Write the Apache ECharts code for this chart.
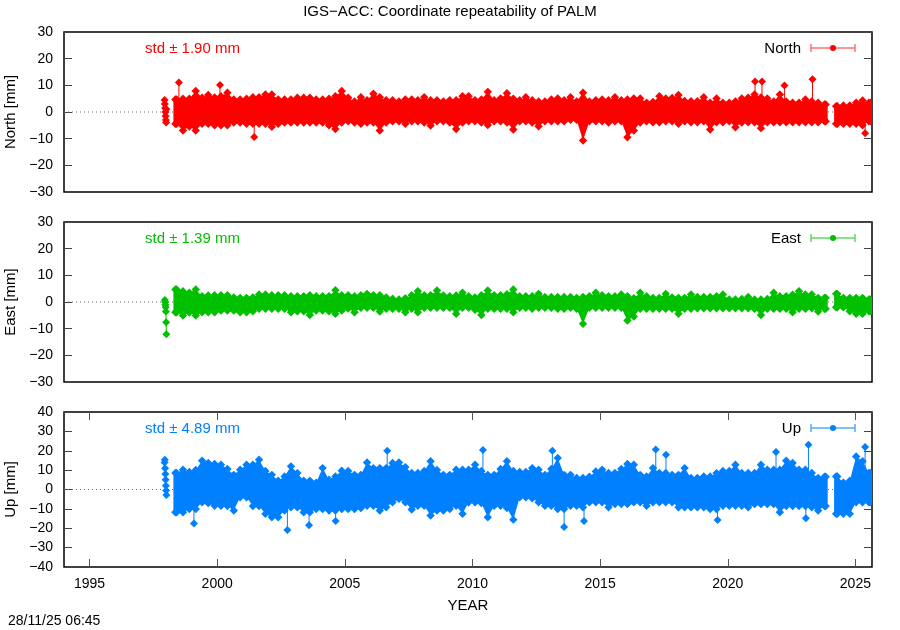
<!DOCTYPE html>
<html>
<head>
<meta charset="utf-8">
<script src="https://cdn.jsdelivr.net/npm/echarts@6/dist/echarts.min.js"></script>
<style>html,body{margin:0;padding:0;background:#fff;}#c{width:900px;height:630px;}</style>
</head>
<body>
<div id="c"></div>
<script>
// ---- data (bin centres in decimal years, band min/max, mm) ----
var epochs = [1998.41,1998.66,1998.91,1999.16,1999.41,1999.65,1999.90,2000.15,2000.40,2000.65,
2000.90,2001.15,2001.40,2001.64,2001.89,2002.14,2002.39,2002.64,2002.89,2003.14,
2003.39,2003.63,2003.88,2004.13,2004.38,2004.63,2004.88,2005.13,2005.38,2005.63,
2005.87,2006.12,2006.37,2006.62,2006.87,2007.12,2007.37,2007.62,2007.86,2008.11,
2008.36,2008.61,2008.86,2009.11,2009.36,2009.61,2009.85,2010.10,2010.35,2010.60,
2010.85,2011.10,2011.35,2011.60,2011.85,2012.09,2012.34,2012.59,2012.84,2013.09,
2013.34,2013.59,2013.84,2014.08,2014.33,2014.58,2014.83,2015.08,2015.33,2015.58,
2015.83,2016.07,2016.32,2016.57,2016.82,2017.07,2017.32,2017.57,2017.82,2018.07,
2018.31,2018.56,2018.81,2019.06,2019.31,2019.56,2019.81,2020.06,2020.30,2020.55,
2020.80,2021.05,2021.30,2021.55,2021.80,2022.04,2022.29,2022.54,2022.79,2023.04,
2023.29,2023.54,2023.79,2024.04,2024.29,2024.53,2024.78,2025.03,2025.28,2025.53];

var northHi = [5.75,6,6,8.9,6.4,7.4,6.5,7,8.25,5.75, 5.75,6,6.6,6.6,7.6,7.6,5.75,5.75,5.75,6.4,
6.4,6.4,5.75,5.75,6,7,8.9,6.4,5,6.6, 5.5,7.9,6.6,5.5,5.5,5,5.75,5.75,5.5,6.6,
5.5,5.5,5,5.5,5.5,7,7,5.5,5.75,8.6, 5.5,6.1,8.1,6,5.5,6.6,5.5,5,5,5.75,
6.1,5.5,6.6,5,8.25,5,5.5,5.75,5.5,6.6, 5.5,5.75,6.1,6.1,4.5,4.8,7,6.1,6.3,7.4,
5.2,5.1,5.1,6.6,4.5,6.1,4.5,4.5,5,6.1, 6.4,7.6,6.5,6.1,5,7.6,5,4.5,4.5,5.75,
5,4.5,3.9,null,3.25,3.5,3.5,4.5,5.4,4.5];
var northLo = [-5.5,-8,-6.5,-8,-5.5,-5.5,-6,-6,-6,-5, -5,-5.5,-5.5,-5.5,-5.5,-6.6,-5.5,-5,-5,-5,
-5,-5,-5,-5,-6,-7.4,-5,-4.5,-5,-5.5, -5,-5,-8,-5,-4.5,-4.5,-5.5,-4.5,-4.5,-5,
-6.1,-4.5,-4.5,-5,-7.4,-5,-4.5,-4.5,-5,-5.9, -4.5,-4.5,-5,-7.6,-4.5,-4.5,-5,-6.4,-4.5,-4.5,
-4.5,-4.5,-4,-4,-11.75,-4.5,-4.5,-4.5,-5,-4.5, -4.5,-10.5,-8,-5,-4.5,-4.9,-4.9,-4.5,-4.5,-5.5,
-4.5,-4.9,-4.9,-4.5,-7.6,-4.9,-4.9,-4.5,-6.75,-5, -4.9,-4.9,-7.1,-4.9,-4.9,-4.9,-4.9,-4.9,-4.9,-4.9,
-4.9,-4.9,-4.5,null,-5.5,-5.5,-5.5,-5.5,-6,-4.5];

var eastHi = [5.75,5.1,4.5,5.75,3.25,3.5,3.6,3.6,3.6,2.8, 2.6,2.6,2.8,3.9,3.9,3.6,3.6,3.6,3.25,3.25,
3.25,3.6,3.25,3.25,3.25,5.5,3.6,3.6,3.25,3.6, 4.1,3.6,3.6,2.8,2.3,2,2.5,3.6,5.1,3.6,
3.6,5.4,3.5,3.25,3.5,4.5,3.2,2.8,3.6,5.4, 3.6,3.6,4,5.75,3.25,3.25,3.25,4.1,2.9,2.9,
2.9,2.9,2.9,2.6,2.9,3.25,4.5,3.6,3.25,3.25, 3.9,3.25,2.5,4.5,3.2,2.6,2.6,4.1,2.8,2.6,
2.6,3.9,2.9,2.9,2.9,3.2,3.9,2,2,2.2, 2.9,2,2,2.2,4.5,3.25,3.25,3.8,5.1,3.9,
3.9,2.6,2.6,null,4.1,2.6,2.6,2.6,2.6,2];
var eastLo = [-4.9,-6.1,-5,-6.1,-4.9,-4.9,-4.9,-4.25,-4.25,-4.25, -4.9,-4.9,-4.5,-3.6,-3.6,-3.6,-3.6,-3.6,-4.9,-4.5,
-4.5,-5.9,-4.25,-4.25,-4.5,-5.5,-4.25,-3.5,-4.9,-3.2, -3.2,-3.2,-4.6,-3.6,-3.6,-3.6,-4.9,-3.6,-4.9,-3.2,
-3.2,-3.2,-3.2,-3.2,-5.5,-3.2,-3.2,-4,-5.9,-3.6, -3.6,-3.6,-3.6,-4.9,-3.2,-3.2,-3.6,-3.2,-3.2,-3.2,
-3.6,-3.6,-3.2,-3.6,-9.25,-3.2,-3.2,-3.2,-3.2,-3.2, -3.2,-8,-6.5,-3.6,-3.6,-3.6,-3.6,-3.6,-3.6,-5.5,
-3.6,-3.6,-3.4,-3.4,-3.4,-3.4,-3.4,-3.4,-3.4,-3.4, -3.4,-3.6,-5.9,-3.6,-3.6,-3.6,-3.6,-4.9,-3.6,-3.6,
-3.4,-4.6,-3.6,null,-3,-3,-4.5,-5.5,-5.5,-4.5];

var upHi = [10,11.7,10.5,11.5,16.3,15.1,14.6,14.2,12,9, 11.7,14.2,14.2,16.8,11,9,6,8.2,13.4,9.9,
6,6,5,12.5,6.5,8.2,11.1,11,9,9, 15.4,12.5,12.5,12.5,15.1,15.4,13,10,10,11,
16,11.5,9,9,11.7,11.7,11.7,14.2,11,9, 9,12,16,11,10.5,10.5,12.5,11.7,9,12,
17.7,9,9,7.4,7.4,8,10.8,11.7,10,10, 12,14.6,14.2,9,8.2,12.5,10,10,9,9,
12.5,7.4,7.4,8.2,8.2,9.9,11,11,14.2,10, 10,10,14.2,11.7,11.7,11.7,16.3,15.1,11.7,11.7,
10,7.4,8,null,8.2,5,6,18.5,16,10];
var upLo = [-13.2,-13.2,-11.5,-11.5,-8,-8.5,-9.8,-9.8,-10,-12.3, -5.5,-5.5,-10,-10,-14,-15.8,-15.8,-12.3,-10.6,-10.6,
-13.2,-13.2,-11.5,-11.5,-12.3,-12.3,-11.5,-11.5,-11.5,-11, -9.8,-9.8,-12.3,-10.6,-8,-6.3,-8,-11.8,-9.8,-9.8,
-14.9,-12.3,-12.3,-11.5,-9.8,-14,-8,-8,-8.5,-15.8, -9.8,-9.8,-11,-17,-5.5,-5.5,-6,-8,-9.8,-9.8,
-11.5,-11.5,-9.8,-9.8,-10.6,-8,-8,-8,-10.6,-8.9, -8.9,-8.9,-8,-8,-9.8,-8,-8,-8,-8,-10.6,
-10.6,-10.6,-10.6,-10.6,-11.5,-11.5,-9.8,-9.8,-9.8,-9.8, -10.6,-9,-9,-9,-9,-13.2,-10,-10,-10,-10,
-10.6,-12.3,-10,null,-14,-14,-14,-8,-8,-8];

// isolated outliers [year, mm]
var northSpikes = [[1998.50,11.1],[2000.11,10.1],[2001.45,-9.4],[2021.07,11.4],[2021.34,11.4],[2022.22,9.9],[2023.32,12.25],[2025.38,-8]];
var eastSpikes = [];
var upSpikes = [[1999.09,-17.5],[2002.75,-20.9],[2003.60,-18.4],[2004.64,-16.3],[2006.66,20],[2010.41,20.4],[2013.13,20],
[2013.59,-19.4],[2014.37,-16.3],[2017.18,20.6],[2017.58,18],[2019.60,-15.8],[2021.89,19.4],[2023.06,-14.9],[2023.16,23.1],[2025.38,21.9]];

// first short data segment at start of 1998
var northEarly = [[1997.94,4.5],[1997.95,3],[1997.96,1.5],[1997.97,0],[1997.98,-1.5],[1997.99,-3],[1998.00,-3.9],[1998.01,1]];
var eastEarly = [[1997.95,0.75],[1997.96,0],[1997.97,-1],[1997.98,-2],[1997.99,-3.6],[1998.00,-7.6],[1998.01,-12.1]];
var upEarly = [[1997.94,14],[1997.95,15.4],[1997.96,11],[1997.97,8],[1997.98,5],[1997.99,2],[1998.00,-0.5],[1998.01,-2.9]];

var yearTicks = [1995,2000,2005,2010,2015,2020,2025];
var panels = [
  {name:'North', axis:'North [mm]', std:'std \u00b1 1.90 mm', color:'#ff0000', light:'#ff7070', hi:northHi, lo:northLo, spikes:northSpikes, early:northEarly, min:-30, max:30},
  {name:'East',  axis:'East [mm]',  std:'std \u00b1 1.39 mm', color:'#00c000', light:'#60d860', hi:eastHi, lo:eastLo, spikes:eastSpikes, early:eastEarly, min:-30, max:30},
  {name:'Up',    axis:'Up [mm]',    std:'std \u00b1 4.89 mm', color:'#0080ff', light:'#50a8ff', hi:upHi, lo:upLo, spikes:upSpikes, early:upEarly, min:-40, max:40}
];

// ---- layout ----
var XMIN = 1994, XMAX = 2025.65, HALF = 0.1244, D = 4.2, OFF = 2.8, DS = 4;
var FONT = 'Liberation Sans, Arial, sans-serif';
var grids = [{top:32,height:160},{top:222,height:160},{top:412,height:155}];

function diamond(x, y, c, d) {
  return {type:'polygon', shape:{points:[[x,y-d],[x+d,y],[x,y+d],[x-d,y]]}, style:{fill:c}};
}
function bandItem(color) {
  return function (params, api) {
    var idx = params.dataIndexInside, n = params.dataInsideLength;
    var t = api.value(0), lo = api.value(1), hi = api.value(2);
    var pH = api.coord([t, hi]), pL = api.coord([t, lo]);
    var kids = [];
    var hasPrev = idx > 0 && (t - api.value(0, idx - 1)) < 0.3;
    if (!hasPrev) {
      // whole contiguous segment as one polygon
      var top = [], bot = [], k = idx;
      var s0 = api.coord([t - HALF, 0])[0];
      while (true) {
        var tk = api.value(0, k);
        var h = api.coord([tk, api.value(2, k)]), l = api.coord([tk, api.value(1, k)]);
        if (k === idx) { top.push([s0, h[1] + OFF]); bot.push([s0, l[1] - OFF]); }
        top.push([h[0], h[1] + OFF]); bot.push([l[0], l[1] - OFF]);
        var nextOk = k + 1 < n && (api.value(0, k + 1) - tk) < 0.3;
        if (!nextOk) {
          var e0 = api.coord([tk + HALF, 0])[0];
          top.push([e0, h[1] + OFF]); bot.push([e0, l[1] - OFF]);
          break;
        }
        k++;
      }
      kids.push({type:'polygon', shape:{points:top.concat(bot.reverse())}, style:{fill:color}});
      kids.push(diamond(s0 + 2, top[0][1], color, D), diamond(s0 + 2, bot[bot.length - 1][1], color, D));
      var last = top[top.length - 1];
      kids.push(diamond(last[0] - 2, last[1], color, D), diamond(last[0] - 2, bot[0][1], color, D));
    }
    kids.push(diamond(pH[0], pH[1] + OFF, color, D), diamond(pL[0], pL[1] - OFF, color, D));
    return {type:'group', children:kids};
  };
}
function spikeItem(color) {
  return function (params, api) {
    var t = api.value(0), v = api.value(1);
    var p0 = api.coord([t, 0]), p1 = api.coord([t, v]);
    return {type:'group', children:[
      {type:'line', shape:{x1:p0[0], y1:p0[1], x2:p1[0], y2:p1[1]}, style:{stroke:color, lineWidth:1}},
      diamond(p1[0], p1[1], color, DS)
    ]};
  };
}
var minus = function (v) { return String(v).replace('-', '\u2212'); };
var plain = function (v) { return String(v); };

var xAxes = [], yAxes = [], series = [], graphics = [];
panels.forEach(function (p, i) {
  var last = i === 2;
  xAxes.push({
    gridIndex:i, type:'value', min:XMIN, max:XMAX, position:'bottom', splitLine:{show:false},
    axisLine:{show:false, onZero:false},
    axisTick:{show:last, inside:true, length:8, customValues:yearTicks, lineStyle:{color:'#555'}},
    axisLabel:{show:last, customValues:yearTicks, formatter:plain, color:'#000', fontSize:14, fontFamily:FONT, margin:10},
    name: last ? 'YEAR' : '', nameLocation:'middle', nameGap:31,
    nameTextStyle:{color:'#000', fontSize:15, fontFamily:FONT}
  });
  xAxes.push({
    gridIndex:i, type:'value', min:XMIN, max:XMAX, position:'top', splitLine:{show:false},
    axisLine:{show:false, onZero:false},
    axisTick:{show:last, inside:true, length:8, customValues:yearTicks, lineStyle:{color:'#555'}},
    axisLabel:{show:false}
  });
  yAxes.push({
    gridIndex:i, type:'value', min:p.min, max:p.max, interval:10, position:'left', splitLine:{show:false},
    axisLine:{show:false, onZero:false},
    axisTick:{inside:true, length:8, lineStyle:{color:'#444'}},
    axisLabel:{color:'#000', fontSize:14, fontFamily:FONT, margin:11, formatter:minus},
    name:p.axis, nameLocation:'middle', nameGap:35,
    nameTextStyle:{color:'#000', fontSize:15, fontFamily:FONT}
  });
  yAxes.push({
    gridIndex:i, type:'value', min:p.min, max:p.max, interval:10, position:'right', splitLine:{show:false},
    axisLine:{show:false, onZero:false},
    axisTick:{inside:true, length:8, lineStyle:{color:'#444'}},
    axisLabel:{show:false}
  });
  var xi = i * 2, yi = i * 2;
  series.push({
    type:'line', xAxisIndex:xi, yAxisIndex:yi, data:[[XMIN,0],[XMAX,0]], symbol:'none', silent:true, z:1,
    lineStyle:{color:'#666', width:1, type:[1,3]}
  });
  var band = [];
  epochs.forEach(function (t, k) { if (p.hi[k] != null) band.push([t, p.lo[k], p.hi[k]]); });
  series.push({
    type:'custom', xAxisIndex:xi, yAxisIndex:yi, data:band, renderItem:bandItem(p.color),
    encode:{x:0, y:[1,2]}, clip:true, z:3, silent:true
  });
  series.push({
    type:'custom', xAxisIndex:xi, yAxisIndex:yi, data:p.spikes, renderItem:spikeItem(p.color),
    encode:{x:0, y:1}, clip:true, z:2, silent:true
  });
  series.push({
    type:'line', xAxisIndex:xi, yAxisIndex:yi, data:p.early, symbol:'diamond', symbolSize:8, showSymbol:true,
    itemStyle:{color:p.color}, lineStyle:{color:p.color, width:1}, z:3, silent:true
  });
  var g = grids[i];
  var ly = g.top + 16;
  graphics.push({type:'text', left:145, top:ly - 7, style:{text:p.std, fill:p.color, font:'15px ' + FONT}});
  graphics.push({type:'text', right:900 - 801, top:ly - 7, style:{text:p.name, fill:'#000', font:'15px ' + FONT}});
  graphics.push({type:'line', shape:{x1:811, y1:ly, x2:855, y2:ly}, style:{stroke:p.light, lineWidth:1.5}});
  graphics.push({type:'line', shape:{x1:811, y1:ly - 4, x2:811, y2:ly + 4}, style:{stroke:p.light, lineWidth:1.5}});
  graphics.push({type:'line', shape:{x1:855, y1:ly - 4, x2:855, y2:ly + 4}, style:{stroke:p.light, lineWidth:1.5}});
  graphics.push({type:'circle', shape:{cx:833, cy:ly, r:3}, style:{fill:p.color}});
});

graphics.push({type:'text', left:'center', top:4, style:{text:'IGS\u2212ACC: Coordinate repeatability of PALM', fill:'#000', font:'15px ' + FONT}});
graphics.push({type:'text', left:8, top:614, style:{text:'28/11/25 06:45', fill:'#000', font:'14px ' + FONT}});

var chart = echarts.init(document.getElementById('c'), null, {renderer:'canvas'});
chart.setOption({
  backgroundColor:'#fff',
  animation:false,
  grid: grids.map(function (g) {
    return {left:64, right:28, top:g.top, height:g.height, show:true, borderColor:'#000', borderWidth:1.5, backgroundColor:'rgba(0,0,0,0)', containLabel:false, outerBoundsMode:'none'};
  }),
  xAxis:xAxes,
  yAxis:yAxes,
  series:series,
  graphic:graphics
});
</script>
</body>
</html>
